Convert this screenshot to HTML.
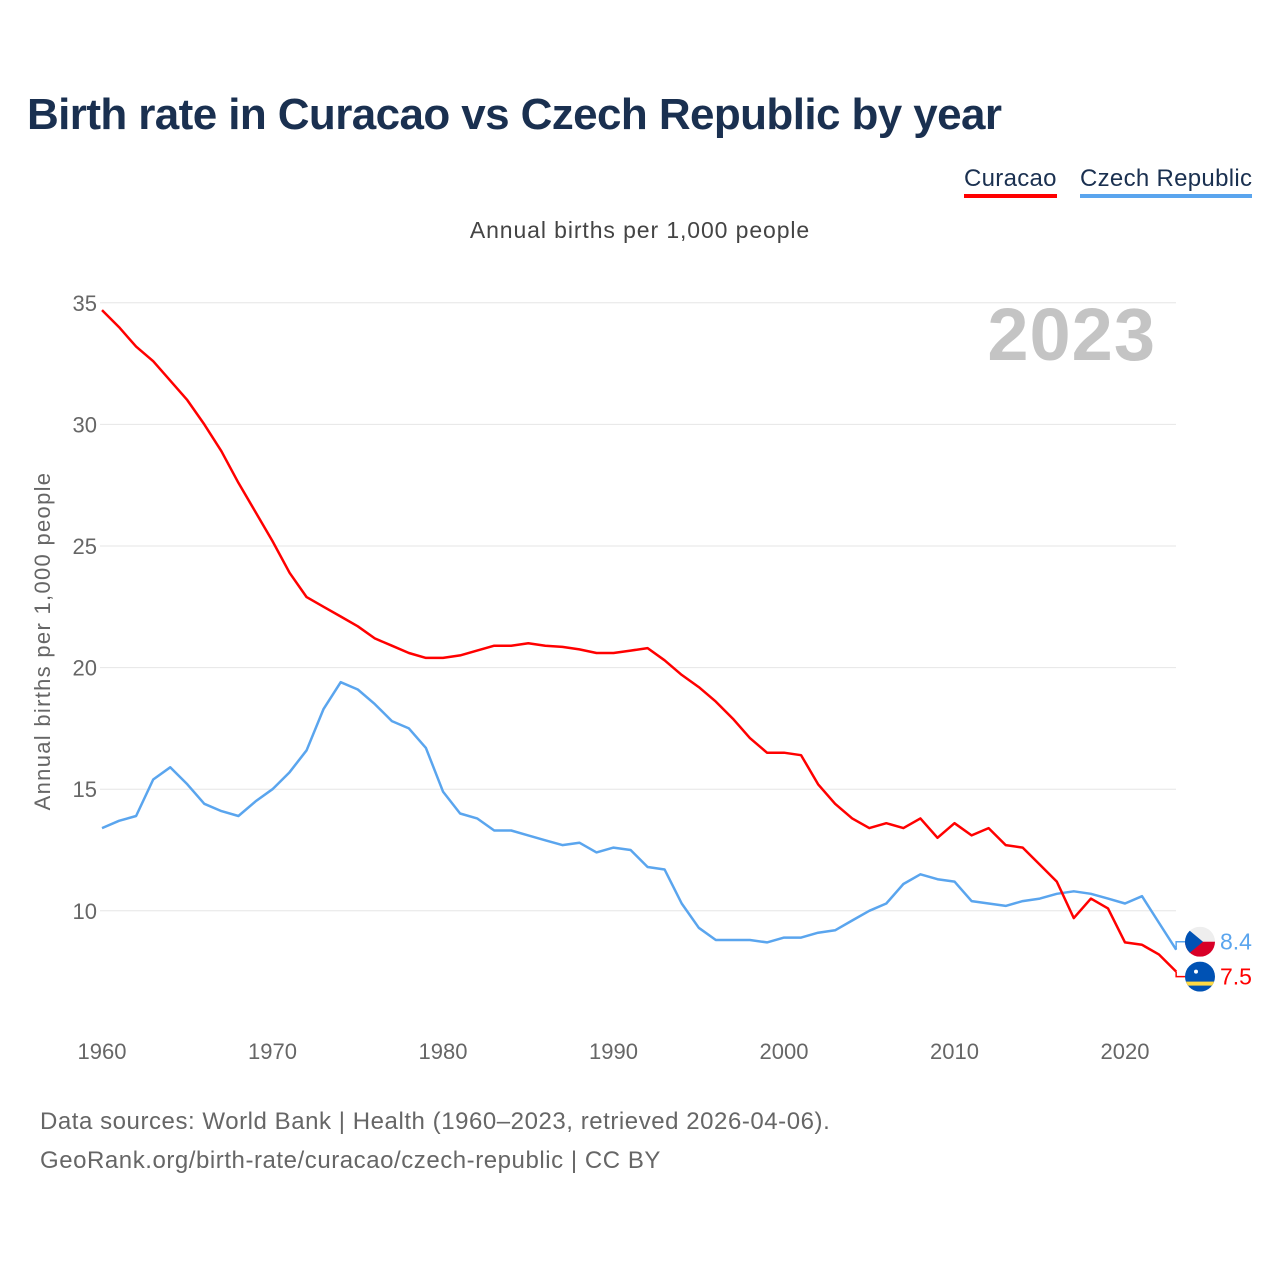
<!DOCTYPE html>
<html><head><meta charset="utf-8"><style>
body{margin:0;background:#fff;font-family:"Liberation Sans",sans-serif}
#wrap{position:relative;width:1280px;height:1280px;overflow:hidden}
.t{position:absolute;white-space:nowrap}
</style></head><body>
<div id="wrap">
<div class="t" style="left:27px;top:90px;font-size:44px;font-weight:bold;color:#1a3050;letter-spacing:-0.6px">Birth rate in Curacao vs Czech Republic by year</div>
<div class="t" style="left:964px;top:166px;font-size:24px;color:#1a3050;border-bottom:4px solid #ff0000;line-height:26px;padding-bottom:2px;letter-spacing:0.3px">Curacao</div>
<div class="t" style="left:1080px;top:166px;font-size:24px;color:#1a3050;border-bottom:4px solid #5aa5ee;line-height:26px;padding-bottom:2px;letter-spacing:0.3px">Czech Republic</div>
<div class="t" style="left:0;width:1280px;text-align:center;top:217px;font-size:23px;color:#444;letter-spacing:0.9px">Annual births per 1,000 people</div>
<div class="t" style="left:40px;top:1102px;font-size:24px;color:#666;line-height:39px;letter-spacing:0.55px">Data sources: World Bank | Health (1960–2023, retrieved 2026-04-06).<br>GeoRank.org/birth-rate/curacao/czech-republic | CC BY</div>
<svg id="chart" width="1280" height="1280" style="position:absolute;left:0;top:0"></svg>
</div>
<script>
const years=[];for(let y=1960;y<=2023;y++)years.push(y);
const curacao=[34.7,34.0,33.2,32.6,31.8,31.0,30.0,28.9,27.6,26.4,25.2,23.9,22.9,22.5,22.1,21.7,21.2,20.9,20.6,20.4,20.4,20.5,20.7,20.9,20.9,21.0,20.9,20.85,20.75,20.6,20.6,20.7,20.8,20.3,19.7,19.2,18.6,17.9,17.1,16.5,16.5,16.4,15.2,14.4,13.8,13.4,13.6,13.4,13.8,13.0,13.6,13.1,13.4,12.7,12.6,11.9,11.2,9.7,10.5,10.1,8.7,8.6,8.2,7.5];
const czech=[13.4,13.7,13.9,15.4,15.9,15.2,14.4,14.1,13.9,14.5,15.0,15.7,16.6,18.3,19.4,19.1,18.5,17.8,17.5,16.7,14.9,14.0,13.8,13.3,13.3,13.1,12.9,12.7,12.8,12.4,12.6,12.5,11.8,11.7,10.3,9.3,8.8,8.8,8.8,8.7,8.9,8.9,9.1,9.2,9.6,10.0,10.3,11.1,11.5,11.3,11.2,10.4,10.3,10.2,10.4,10.5,10.7,10.8,10.7,10.5,10.3,10.6,9.5,8.4];
const yTicks=[10,15,20,25,30,35];
const xTicks=[1960,1970,1980,1990,2000,2010,2020];
const NS='http://www.w3.org/2000/svg';
const svg=document.getElementById('chart');
const X=y=>102+(y-1960)*17.05;
const Y=v=>1154-v*24.32;
function mk(tag,attrs){const e=document.createElementNS(NS,tag);for(const k in attrs)e.setAttribute(k,attrs[k]);svg.appendChild(e);return e;}
yTicks.forEach(v=>{
  const l=mk('line',{x1:100,x2:1176,y1:Y(v),y2:Y(v),stroke:'#e6e6e6','stroke-width':1});
  
  
  const t=mk('text',{x:97,y:Y(v)+8,'text-anchor':'end','font-size':22,fill:'#666','font-family':'Liberation Sans, sans-serif'});
  t.textContent=v;
  
  
});
xTicks.forEach(y=>{
  const t=mk('text',{x:X(y),y:1059,'text-anchor':'middle','font-size':22,fill:'#666','font-family':'Liberation Sans, sans-serif'});
  t.textContent=y;
  
  
});
const yt=mk('text',{x:0,y:0,transform:'translate(50,641) rotate(-90)','text-anchor':'middle','font-size':22,fill:'#666','font-family':'Liberation Sans, sans-serif','letter-spacing':'1.3'});
yt.textContent='Annual births per 1,000 people';


const yr=mk('text',{x:1156,y:360,'text-anchor':'end','font-size':74,'font-weight':'bold',fill:'#c4c4c4','font-family':'Liberation Sans, sans-serif','letter-spacing':'1'});
yr.textContent='2023';


function line(data,color,name){
  const d=data.map((v,i)=>(i?'L':'M')+X(years[i]).toFixed(1)+' '+Y(v).toFixed(1)).join(' ');
  const p=mk('path',{d:d,fill:'none',stroke:color,'stroke-width':2.5,'stroke-linejoin':'round'});
  
  
}
line(czech,'#5aa5ee','czech-republic-line');
line(curacao,'#ff0000','curacao-line');
const lastC=czech[czech.length-1], lastK=curacao[curacao.length-1];
const cy=Y(lastC)-8, ky=Y(lastK)+5;
mk('path',{d:`M${X(2023)} ${Y(lastC)} L${X(2023)} ${cy} L1186 ${cy}`,stroke:'#5aa5ee','stroke-width':1.5,fill:'none'});
mk('path',{d:`M${X(2023)} ${Y(lastK)} L${X(2023)} ${ky} L1186 ${ky}`,stroke:'#ff0000','stroke-width':1.5,fill:'none'});
const cp=mk('clipPath',{id:'c1'});const cc=document.createElementNS(NS,'circle');cc.setAttribute('cx',1200);cc.setAttribute('cy',cy);cc.setAttribute('r',15);cp.appendChild(cc);
mk('rect',{x:1185,y:cy-15,width:30,height:15,fill:'#eeeeee','clip-path':'url(#c1)'});
mk('rect',{x:1185,y:cy,width:30,height:15,fill:'#d80027','clip-path':'url(#c1)'});
mk('path',{d:`M1185 ${cy-15} L1203 ${cy} L1185 ${cy+15}Z`,fill:'#0052b4','clip-path':'url(#c1)'});
const cp2=mk('clipPath',{id:'c2'});const cc2=document.createElementNS(NS,'circle');cc2.setAttribute('cx',1200);cc2.setAttribute('cy',ky);cc2.setAttribute('r',15);cp2.appendChild(cc2);
mk('rect',{x:1185,y:ky-15,width:30,height:30,fill:'#0052b4','clip-path':'url(#c2)'});
mk('rect',{x:1185,y:ky+5,width:30,height:4,fill:'#ffda44','clip-path':'url(#c2)'});
mk('circle',{cx:1196,cy:ky-5,r:2,fill:'#fff'});
const lc=mk('text',{x:1220,y:cy+8,'font-size':23,fill:'#5aa5ee','font-family':'Liberation Sans, sans-serif'});lc.textContent=lastC;


const lk=mk('text',{x:1220,y:ky+8,'font-size':23,fill:'#ff0000','font-family':'Liberation Sans, sans-serif'});lk.textContent=lastK;


</script>
</body></html>
